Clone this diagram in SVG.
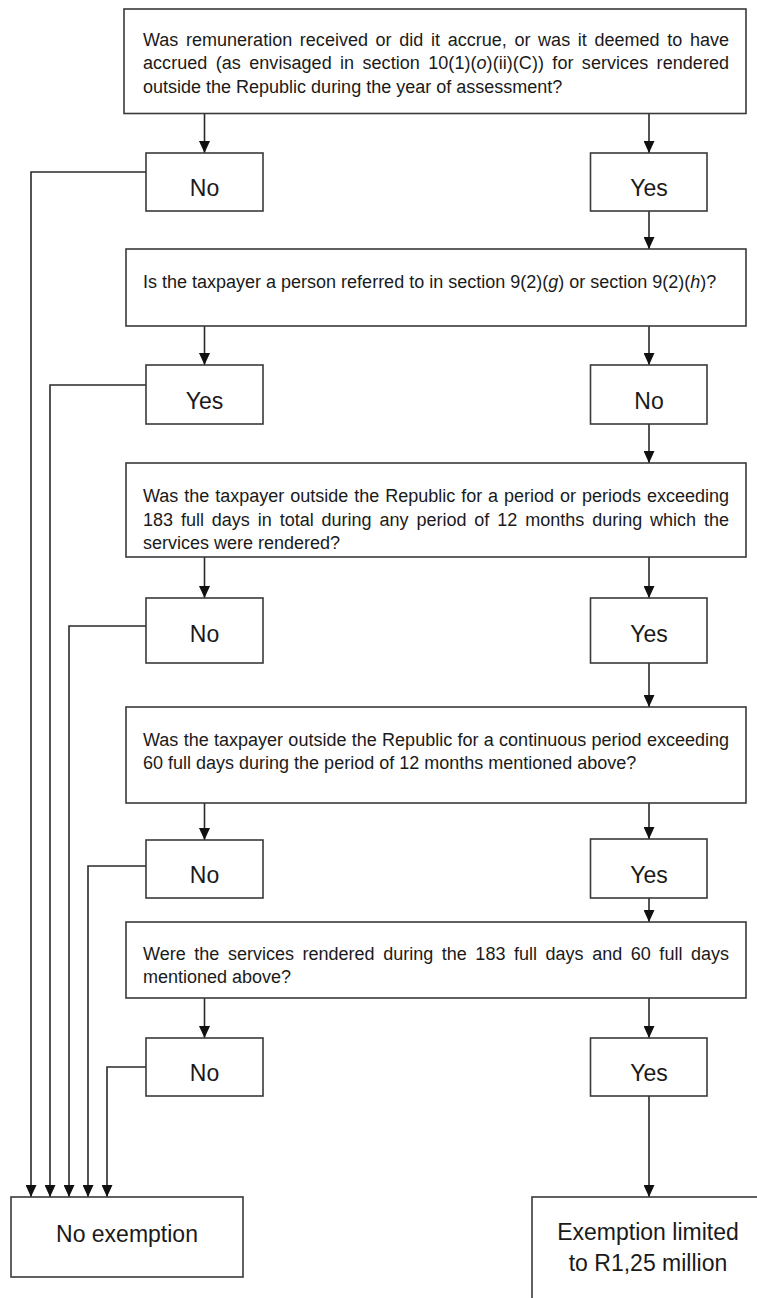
<svg xmlns="http://www.w3.org/2000/svg" width="757" height="1298" viewBox="0 0 757 1298">
<defs>
<style>
.box{fill:#fff;stroke:#3a3a3a;stroke-width:1.6}
.q{font-family:"Liberation Sans",Arial,sans-serif;font-size:18px;fill:#1a1a1a}
.lbl{font-family:"Liberation Sans",Arial,sans-serif;font-size:23px;fill:#1a1a1a;text-anchor:middle}
.c{fill:none;stroke:#2a2a2a;stroke-width:1.6}
.i{font-style:italic}
</style>
<marker id="ah" viewBox="0 0 12 11" refX="12" refY="5.5" markerWidth="12" markerHeight="11" markerUnits="userSpaceOnUse" orient="auto">
<path d="M0,0 L12,5.5 L0,11 z" fill="#111"/>
</marker>
</defs>
<rect width="757" height="1298" fill="#fff"/>

<g id="connectors">
<path class="c" marker-end="url(#ah)" d="M204.5,113.5 V153"/>
<path class="c" marker-end="url(#ah)" d="M649,113.5 V153"/>
<path class="c" marker-end="url(#ah)" d="M649,211 V249"/>
<path class="c" marker-end="url(#ah)" d="M204.5,326 V365"/>
<path class="c" marker-end="url(#ah)" d="M649,326 V365"/>
<path class="c" marker-end="url(#ah)" d="M649,424 V463"/>
<path class="c" marker-end="url(#ah)" d="M204.5,557 V598"/>
<path class="c" marker-end="url(#ah)" d="M649,557 V598"/>
<path class="c" marker-end="url(#ah)" d="M649,663 V707"/>
<path class="c" marker-end="url(#ah)" d="M204.5,803 V840"/>
<path class="c" marker-end="url(#ah)" d="M649,803 V839"/>
<path class="c" marker-end="url(#ah)" d="M649,898 V922"/>
<path class="c" marker-end="url(#ah)" d="M204.5,998 V1038"/>
<path class="c" marker-end="url(#ah)" d="M649,998 V1038"/>
<path class="c" marker-end="url(#ah)" d="M649,1096 V1197"/>
<path class="c" marker-end="url(#ah)" d="M146,172 H31 V1197"/>
<path class="c" marker-end="url(#ah)" d="M146,385 H50 V1197"/>
<path class="c" marker-end="url(#ah)" d="M146,626 H69 V1197"/>
<path class="c" marker-end="url(#ah)" d="M146,866 H88 V1197"/>
<path class="c" marker-end="url(#ah)" d="M146,1067 H107 V1197"/>
</g>

<g id="q1">
<rect class="box" x="124" y="9" width="622" height="104.5"/>
<text class="q" x="143" y="45.5" word-spacing="2.65" textLength="586" lengthAdjust="spacing">Was remuneration received or did it accrue, or was it deemed to have</text>
<text class="q" x="143" y="69" word-spacing="3.3" textLength="586" lengthAdjust="spacing">accrued (as envisaged in section 10(1)(<tspan class="i">o</tspan>)(ii)(C)) for services rendered</text>
<text class="q" x="143" y="92.5">outside the Republic during the year of assessment?</text>
</g>

<g id="a1no">
<rect class="box" x="146" y="153" width="117" height="58"/>
<text class="lbl" x="204.5" y="196">No</text>
</g>
<g id="a1yes">
<rect class="box" x="590.5" y="153" width="116.5" height="58"/>
<text class="lbl" x="649" y="196">Yes</text>
</g>

<g id="q2">
<rect class="box" x="126" y="249" width="620" height="77"/>
<text class="q" x="143" y="288">Is the taxpayer a person referred to in section 9(2)(<tspan class="i">g</tspan>) or section 9(2)(<tspan class="i">h</tspan>)?</text>
</g>

<g id="a2yes">
<rect class="box" x="146" y="365" width="117" height="59"/>
<text class="lbl" x="204.5" y="408.5">Yes</text>
</g>
<g id="a2no">
<rect class="box" x="590.5" y="365" width="116.5" height="59"/>
<text class="lbl" x="649" y="408.5">No</text>
</g>

<g id="q3">
<rect class="box" x="126" y="463" width="620" height="94"/>
<text class="q" x="143" y="502" word-spacing="0.97" textLength="586" lengthAdjust="spacing">Was the taxpayer outside the Republic for a period or periods exceeding</text>
<text class="q" x="143" y="525.5" word-spacing="2.9" textLength="586" lengthAdjust="spacing">183 full days in total during any period of 12 months during which the</text>
<text class="q" x="143" y="549">services were rendered?</text>
</g>

<g id="a3no">
<rect class="box" x="146" y="598" width="117" height="65"/>
<text class="lbl" x="204.5" y="641.5">No</text>
</g>
<g id="a3yes">
<rect class="box" x="590.5" y="598" width="116.5" height="65"/>
<text class="lbl" x="649" y="641.5">Yes</text>
</g>

<g id="q4">
<rect class="box" x="126" y="707" width="620" height="96"/>
<text class="q" x="143" y="746" word-spacing="0.27" textLength="586" lengthAdjust="spacing">Was the taxpayer outside the Republic for a continuous period exceeding</text>
<text class="q" x="143" y="769">60 full days during the period of 12 months mentioned above?</text>
</g>

<g id="a4no">
<rect class="box" x="146" y="840" width="117" height="58"/>
<text class="lbl" x="204.5" y="883">No</text>
</g>
<g id="a4yes">
<rect class="box" x="590.5" y="839" width="116.5" height="59"/>
<text class="lbl" x="649" y="883">Yes</text>
</g>

<g id="q5">
<rect class="box" x="126" y="922" width="620" height="76"/>
<text class="q" x="143" y="960" word-spacing="3.56" textLength="586" lengthAdjust="spacing">Were the services rendered during the 183 full days and 60 full days</text>
<text class="q" x="143" y="983">mentioned above?</text>
</g>

<g id="a5no">
<rect class="box" x="146" y="1038" width="117" height="58"/>
<text class="lbl" x="204.5" y="1081">No</text>
</g>
<g id="a5yes">
<rect class="box" x="590.5" y="1038" width="116.5" height="58"/>
<text class="lbl" x="649" y="1081">Yes</text>
</g>

<g id="noexemption">
<rect class="box" x="11" y="1197" width="232" height="80"/>
<text class="lbl" x="127" y="1242">No exemption</text>
</g>

<g id="exemption">
<rect class="box" x="532" y="1197" width="236" height="120"/>
<text class="lbl" x="648" y="1240">Exemption limited</text>
<text class="lbl" x="648" y="1271">to R1,25 million</text>
</g>
</svg>
